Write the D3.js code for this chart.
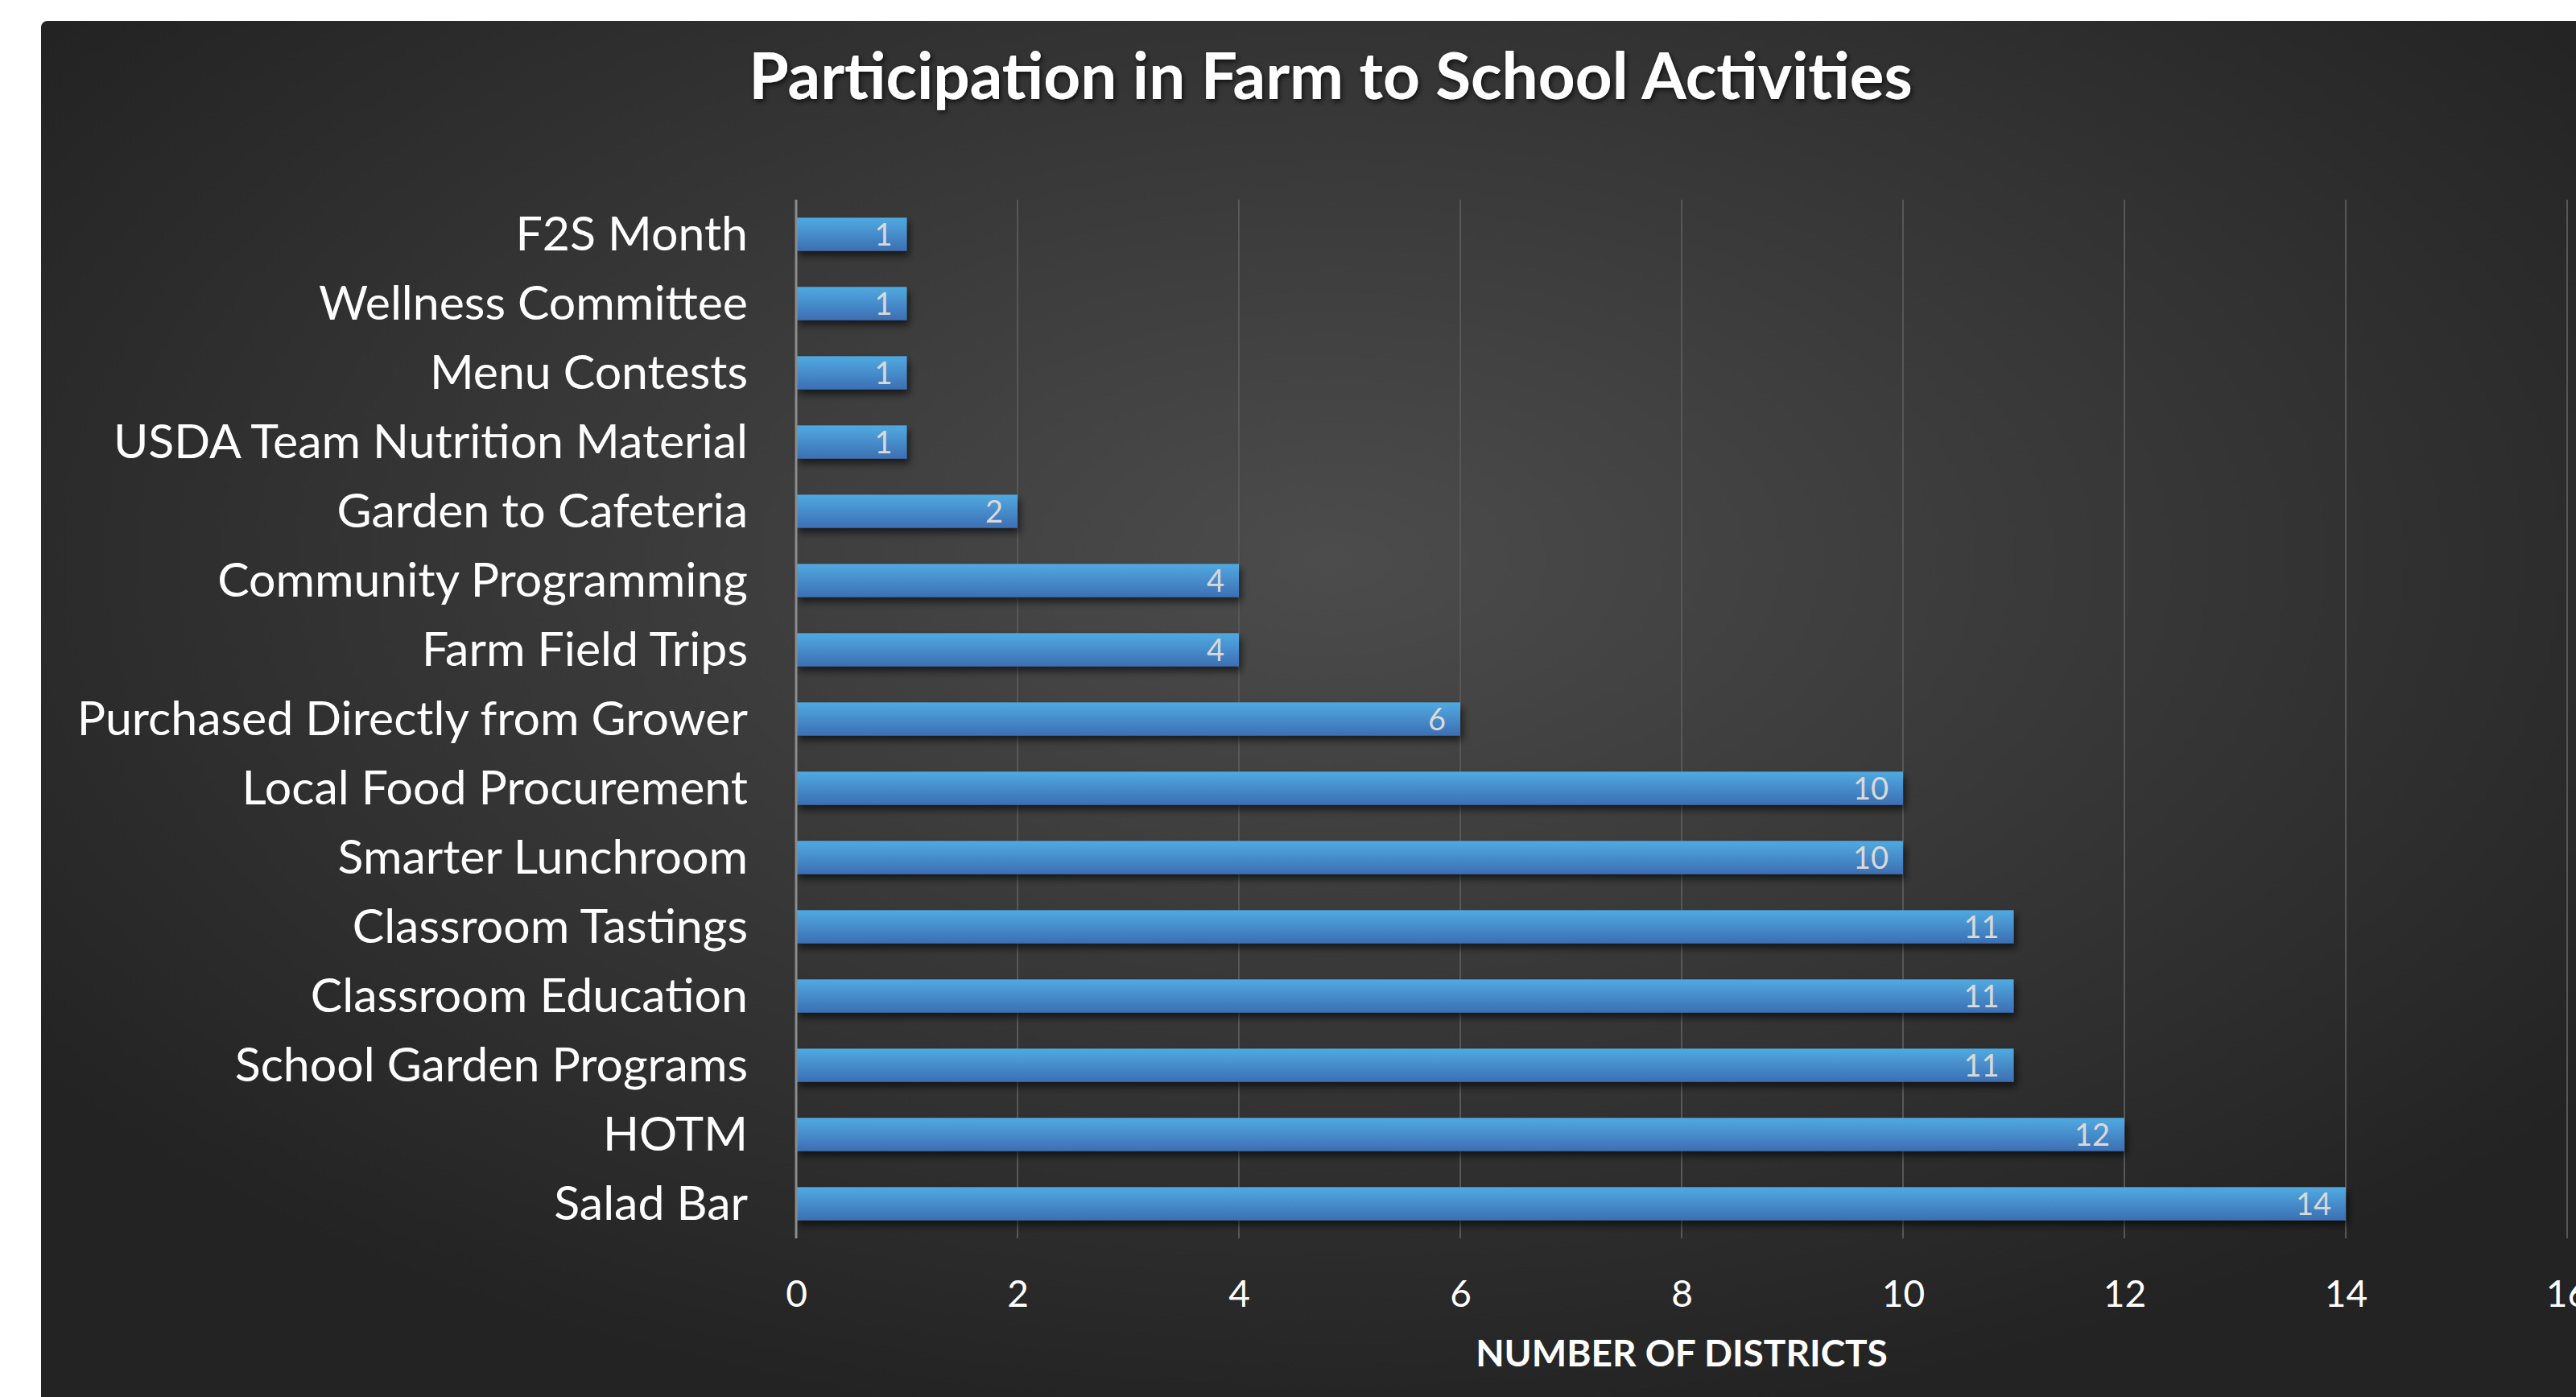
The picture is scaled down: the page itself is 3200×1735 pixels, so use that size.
<!DOCTYPE html>
<html>
<head>
<meta charset="utf-8">
<script src="https://cdn.jsdelivr.net/npm/d3@7"></script>
<style>
  body { margin: 0; background: #fff; }
  text { font-family: Lato, "Open Sans", sans-serif; }
</style>
</head>
<body>
<div id="chart"></div>
<script>
// data
var categories = [
  "F2S Month", "Wellness Committee", "Menu Contests", "USDA Team Nutrition Material",
  "Garden to Cafeteria", "Community Programming", "Farm Field Trips",
  "Purchased Directly from Grower", "Local Food Procurement", "Smarter Lunchroom",
  "Classroom Tastings", "Classroom Education", "School Garden Programs", "HOTM", "Salad Bar"
];
var values = [1, 1, 1, 1, 2, 4, 4, 6, 10, 10, 11, 11, 11, 12, 14];
var xTicks = [0, 2, 4, 6, 8, 10, 12, 14, 16];
var title = "Participation in Farm to School Activities";
var xTitle = "NUMBER OF DISTRICTS";

var W = 3200, H = 1735;
var margin = { top: 248, left: 989 },
  plotW = 2200,
  plotH = 1290;

var svg = d3.select("#chart").append("svg")
  .attr("width", W)
  .attr("height", H);

var defs = svg.append("defs");

var bg = defs.append("radialGradient")
  .attr("id", "bg")
  .attr("cx", "50%").attr("cy", "38%").attr("r", "62%");
bg.append("stop").attr("offset", "0%").attr("stop-color", "#4c4c4c");
bg.append("stop").attr("offset", "100%").attr("stop-color", "#232323");

var barGrad = defs.append("linearGradient")
  .attr("id", "bar")
  .attr("x1", 0).attr("y1", 0).attr("x2", 0).attr("y2", 1);
barGrad.append("stop").attr("offset", "0%").attr("stop-color", "#50aae2");
barGrad.append("stop").attr("offset", "100%").attr("stop-color", "#3c6fb3");

var shadow = defs.append("filter").attr("id", "shadow")
  .attr("x", "-5%").attr("y", "-30%").attr("width", "115%").attr("height", "180%");
shadow.append("feDropShadow")
  .attr("dx", 3).attr("dy", 6).attr("stdDeviation", 5)
  .attr("flood-color", "#000").attr("flood-opacity", 0.6);

var tshadow = defs.append("filter").attr("id", "tshadow");
tshadow.append("feDropShadow")
  .attr("dx", 2).attr("dy", 3).attr("stdDeviation", 3)
  .attr("flood-color", "#000").attr("flood-opacity", 0.7);

// chart area background (runs off the right edge like the original)
svg.append("rect")
  .attr("x", 51).attr("y", 26)
  .attr("width", 3204).attr("height", 1760)
  .attr("rx", 8)
  .attr("fill", "url(#bg)");

svg.append("text")
  .attr("x", 1653).attr("y", 123)
  .attr("text-anchor", "middle")
  .attr("fill", "#fff")
  .attr("font-size", 80)
  .attr("font-weight", 700)
  .attr("filter", "url(#tshadow)")
  .text(title);

var g = svg.append("g")
  .attr("transform", "translate(" + margin.left + "," + margin.top + ")");

var x = d3.scaleLinear().domain([0, 16]).range([0, plotW]);
var y = d3.scaleBand().domain(categories).range([0, plotH])
  .paddingInner(0.52).paddingOuter(0.26);

// gridlines
g.selectAll(".grid")
  .data(xTicks.slice(1))
  .enter().append("line")
  .attr("class", "grid")
  .attr("x1", d => x(d)).attr("x2", d => x(d))
  .attr("y1", 0).attr("y2", plotH)
  .attr("stroke", "#575757")
  .attr("stroke-width", 2);

// bars
g.selectAll(".bar")
  .data(values)
  .enter().append("rect")
  .attr("class", "bar")
  .attr("x", 0)
  .attr("y", (d, i) => y(categories[i]))
  .attr("width", d => x(d))
  .attr("height", y.bandwidth())
  .attr("fill", "url(#bar)")
  .attr("filter", "url(#shadow)");

// value labels
g.selectAll(".val")
  .data(values)
  .enter().append("text")
  .attr("class", "val")
  .attr("x", d => x(d) - 18)
  .attr("y", (d, i) => y(categories[i]) + y.bandwidth() / 2)
  .attr("dy", "0.36em")
  .attr("text-anchor", "end")
  .attr("fill", "#d9d9d9")
  .attr("font-size", 38)
  .text(d => d);

// y axis line
g.append("line")
  .attr("x1", 0).attr("x2", 0)
  .attr("y1", 0).attr("y2", plotH)
  .attr("stroke", "#8c8c8c")
  .attr("stroke-width", 3);

// category labels
var yAxis = g.append("g")
  .call(d3.axisLeft(y).tickSize(0).tickPadding(60));
yAxis.select(".domain").remove();
yAxis.selectAll("text")
  .attr("fill", "#fff")
  .attr("font-size", 59)
  .attr("font-family", "Lato, sans-serif")
  .attr("dy", "0.34em");

// x tick labels
var xAxis = g.append("g")
  .attr("transform", "translate(0," + plotH + ")")
  .call(d3.axisBottom(x).tickValues(xTicks).tickSize(0).tickPadding(52));
xAxis.select(".domain").remove();
xAxis.selectAll("text")
  .attr("fill", "#fff")
  .attr("font-size", 46)
  .attr("font-family", "Lato, sans-serif");

svg.append("text")
  .attr("x", margin.left + plotW / 2).attr("y", 1697)
  .attr("text-anchor", "middle")
  .attr("fill", "#fff")
  .attr("font-size", 46)
  .attr("font-weight", 700)
  .text(xTitle);
</script>
</body>
</html>
